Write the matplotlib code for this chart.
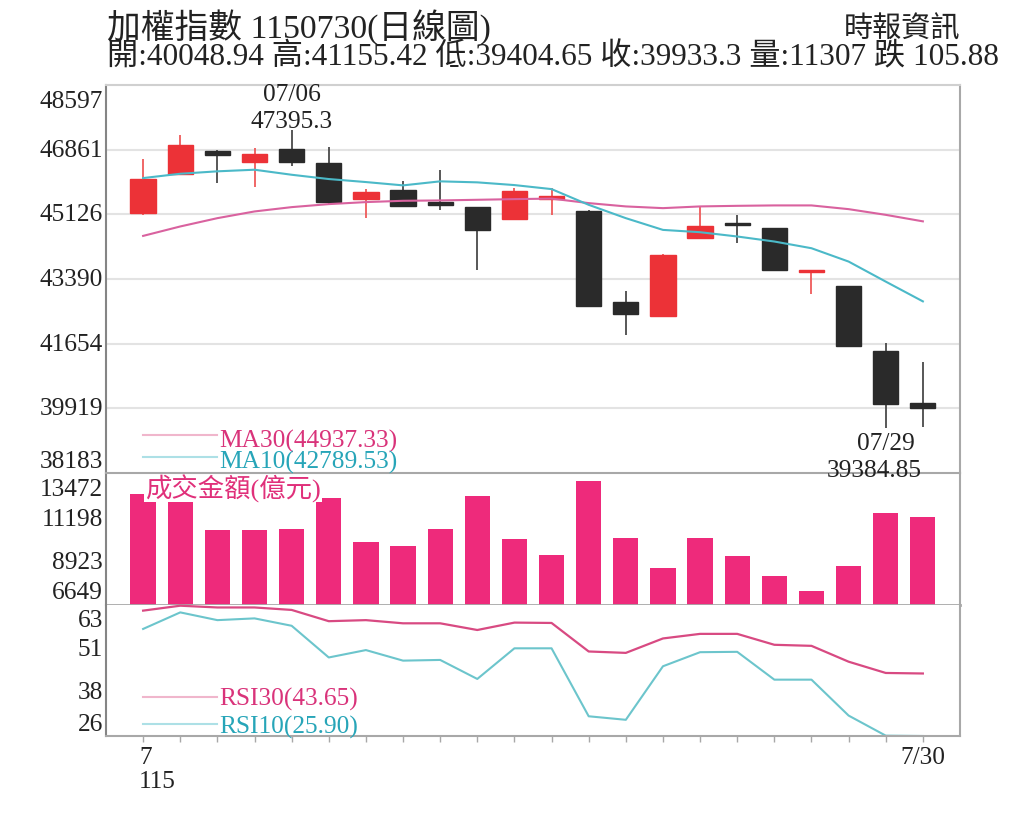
import matplotlib
matplotlib.use('Agg')
import matplotlib.pyplot as plt
from matplotlib.transforms import ScaledTranslation, blended_transform_factory
import numpy as np

plt.rcParams['font.family'] = ['Liberation Serif', 'Noto Sans CJK TC']

# daily candles, 115/07/01 - 07/30
opens = [45150, 46215, 46818, 46530, 46880, 46503, 45525, 45770, 45454, 45320, 45007,
         45525, 45218, 42770, 42393, 44495, 44880, 44755, 43580, 43200, 41470, 40048.94]
closes = [46073, 46996, 46727, 46737, 46530, 45454, 45713, 45356, 45373, 44701, 45760,
          45625, 42662, 42448, 44045, 44810, 44845, 43640, 43626, 41604, 40039.18, 39933.3]
highs = [46619, 47265, 46861, 46907, 47395.3, 46934, 45800, 46027, 46303, 45330, 45830,
         45830, 45230, 43067, 44060, 45350, 45120, 44770, 43630, 43210, 41667, 41155.42]
lows = [45120, 46200, 45965, 45857, 46410, 45380, 45020, 45340, 45254, 43620, 44990,
        45101, 42640, 41877, 42380, 44480, 44360, 43604, 42980, 41578, 39384.85, 39404.65]

ma10 = [46099, 46215, 46280, 46323, 46188, 46073, 45992, 45903, 46011, 45984, 45911,
        45803, 45381, 45023, 44708, 44646, 44531, 44396, 44216, 43858, 43320, 42789.53]
ma30 = [44547, 44800, 45023, 45203, 45319, 45400, 45454, 45489, 45499, 45516, 45534,
        45548, 45427, 45338, 45292, 45338, 45354, 45365, 45365, 45265, 45112, 44937.33]

# 成交金額 (億元)
volume = [12520, 13525, 10616, 10616, 10669, 12293, 9965, 9786, 10669, 12399, 10140,
          9294, 13224, 10193, 8590, 10193, 9225, 8199, 7373, 8696, 11500, 11307]

rsi30 = [61.5, 62.9, 62.4, 62.4, 61.7, 58.5, 58.8, 57.9, 57.9, 56.0, 58.1,
         58.0, 49.9, 49.5, 53.6, 54.9, 54.9, 51.8, 51.5, 47.0, 43.8, 43.65]
rsi10 = [56.3, 61.0, 58.8, 59.3, 57.2, 48.2, 50.3, 47.3, 47.5, 42.1, 50.8,
         50.8, 31.5, 30.5, 45.7, 49.7, 49.8, 41.9, 41.9, 31.7, 26.0, 25.90]

price_lo, price_hi = 38183, 48597
vol_lo, vol_hi = 6649, 13472
rsi_lo, rsi_hi = 25.9, 63.1

first_label = '7\n115'
last_label = '7/30'
high_date, low_date = '07/06', '07/29'

RED = '#ec3237'
BLACK = '#2a2a2a'
PINK = '#ee2a7b'
MA30_C = '#d9629f'
MA10_C = '#4bb9c8'
FRAME = '#a8a8a8'
TXT = '#222222'
FS = 18.3

x = np.arange(len(opens))
o = np.array(opens)
c = np.array(closes)
up = c >= o

fig = plt.figure(figsize=(10.24, 8.2), dpi=100)
ax_p = fig.add_axes([0.1035, 0.42195, 0.834, 0.47317])
ax_v = fig.add_axes([0.1035, 0.26098, 0.834, 0.16098])
ax_r = fig.add_axes([0.1035, 0.10122, 0.834, 0.15976])
ax_p.set_zorder(3)  # so the low label can sit over the volume panel border


def px(dx, dy):
    return ScaledTranslation(dx / 100, dy / 100, fig.dpi_scale_trans)


def ylabels(ax, ticks, top_dy, bot_dy):
    trans = ax.get_yaxis_transform()
    for i, t in enumerate(ticks):
        dy = 0
        if i == len(ticks) - 1:
            dy = -top_dy
        elif i == 0:
            dy = bot_dy
        ax.text(0, t, f'{t:.0f}', transform=trans + px(-3, dy), ha='right', va='center',
                fontsize=FS, color=TXT, clip_on=False)


for ax in (ax_p, ax_v, ax_r):
    ax.set_xlim(-1, len(x))
    ax.set_yticks([])
    ax.set_xticks([])
    for s in ax.spines.values():
        s.set_color(FRAME)
        s.set_linewidth(1.5)
    ax.spines['left'].set_color('#858585')

# ---- price panel
price_ticks = np.linspace(price_lo, price_hi, 7)
ax_p.set_ylim(price_lo, price_hi)
ax_p.spines['top'].set_color('#d0d0d0')
for t in price_ticks[1:-1]:
    ax_p.axhline(t, color='#e3e3e3', lw=1.5, zorder=0)

wick_c = np.where(up, '#ef5a5a', '#4a4a4a')
body_c = np.where(up, RED, BLACK)
ax_p.vlines(x, lows, highs, colors=wick_c, lw=1.3, zorder=2)
ax_p.bar(x, np.abs(c - o), bottom=np.minimum(o, c), width=0.68, color=body_c,
         edgecolor=body_c, linewidth=1, zorder=3)
ax_p.plot(x, ma30, color=MA30_C, lw=1.5, zorder=4)
ax_p.plot(x, ma10, color=MA10_C, lw=1.5, zorder=4)
ylabels(ax_p, price_ticks, 16, 12)

ih = int(np.argmax(highs))
il = int(np.argmin(lows))
ax_p.annotate(f'{highs[ih]:.1f}', (ih, highs[ih]), xytext=(0, -1.5), textcoords='offset points',
              ha='center', va='bottom', fontsize=FS, color=TXT, annotation_clip=False)
ax_p.annotate(high_date, (ih, highs[ih]), xytext=(0, 17.5), textcoords='offset points',
              ha='center', va='bottom', fontsize=FS, color=TXT, annotation_clip=False)
ax_p.annotate(low_date, (il, lows[il]), xytext=(0, -3), textcoords='offset points',
              ha='center', va='top', fontsize=FS, color=TXT, annotation_clip=False)
ax_p.annotate(f'{lows[il]:.2f}', (il, lows[il]), xytext=(-8, -22), textcoords='offset points',
              ha='center', va='top', fontsize=FS, color=TXT, annotation_clip=False)

bt = blended_transform_factory(ax_p.transData, ax_p.transAxes)
ax_p.plot([0, 2], [0.097, 0.097], transform=bt, color='#f0b6cc', lw=1.5)
ax_p.plot([0, 2], [0.040, 0.040], transform=bt, color='#ade0e6', lw=1.5)
ax_p.text(2.05, 0.085, f'MA30({ma30[-1]:.2f})', transform=bt, ha='left', va='center',
          fontsize=FS, color='#d9337a')
ax_p.text(2.05, 0.031, f'MA10({ma10[-1]:.2f})', transform=bt, ha='left', va='center',
          fontsize=FS, color='#27a5b8')

# ---- volume panel
vol_ticks = np.linspace(vol_lo, vol_hi, 4)
ax_v.set_ylim(vol_lo, vol_hi + 0.023 * (vol_hi - vol_lo))
ax_v.spines['top'].set_visible(False)
ax_v.spines['bottom'].set_linewidth(2)
ax_v.bar(x, volume, width=0.68, color=PINK, zorder=2)
ylabels(ax_v, vol_ticks, 13, 13)
bv = blended_transform_factory(ax_v.transData, ax_v.transAxes)
ax_v.text(0.05, 0.89, '成交金額(億元)', transform=bv, ha='left', va='center', fontsize=19,
          color='#e0307a', zorder=5,
          bbox=dict(facecolor='white', edgecolor='none', pad=0.5))

# ---- RSI panel
rsi_ticks = np.linspace(rsi_lo, rsi_hi, 4)
ax_r.set_ylim(rsi_lo, rsi_hi)
ax_r.spines['top'].set_visible(False)
ax_r.plot(x, rsi30, color='#d84a82', lw=1.6, clip_on=False)
ax_r.plot(x, rsi10, color='#6cc5cc', lw=1.5, clip_on=False)
ylabels(ax_r, rsi_ticks, 15, 12)
br = blended_transform_factory(ax_r.transData, ax_r.transAxes)
ax_r.plot([0, 2], [0.298, 0.298], transform=br, color='#f0b6cc', lw=1.5)
ax_r.plot([0, 2], [0.092, 0.092], transform=br, color='#ade0e6', lw=1.5)
ax_r.text(2.05, 0.29, f'RSI30({rsi30[-1]:.2f})', transform=br, ha='left', va='center',
          fontsize=FS, color='#d9337a')
ax_r.text(2.05, 0.076, f'RSI10({rsi10[-1]:.2f})', transform=br, ha='left', va='center',
          fontsize=FS, color='#27a5b8')

ax_r.set_xticks(x)
ax_r.set_xticklabels([])
ax_r.tick_params(axis='x', direction='out', length=4, width=1, color=FRAME)
ax_r.text(x[0], 0, first_label, transform=br + px(-4, -10), ha='left', va='top',
          fontsize=FS, color=TXT, linespacing=1.1)
ax_r.text(x[-1], 0, last_label, transform=br + px(0, -10), ha='center', va='top',
          fontsize=FS, color=TXT)

# ---- header
fig.text(0.1045, 0.967, '加權指數 1150730(日線圖)', ha='left', va='center', fontsize=24.3, color=TXT)
fig.text(0.1045, 0.929,
         '開:40048.94 高:41155.42 低:39404.65 收:39933.3 量:11307 跌 105.88',
         ha='left', va='center', fontsize=22.5, color=TXT)
fig.text(0.9375, 0.964, '時報資訊', ha='right', va='center', fontsize=21, color=TXT)

fig.savefig('out.png', dpi=100, facecolor='white')
